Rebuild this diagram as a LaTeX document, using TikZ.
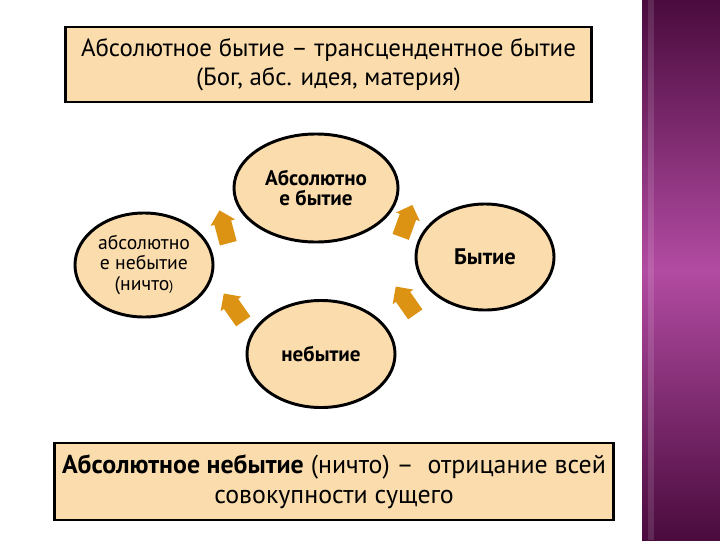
\documentclass[tikz,border=0pt]{standalone}
\usepackage{fontspec}
\setmainfont{PT Sans}
\usetikzlibrary{shapes.geometric,shapes.arrows}
\definecolor{peach}{HTML}{FBDCAC}
\definecolor{arroworange}{HTML}{DC9212}
\definecolor{plumdark}{HTML}{4A0B3D}
\definecolor{plummid}{HTML}{B24BA2}

\begin{document}
\begin{tikzpicture}[x=0.025cm,y=-0.025cm,
  textbox/.style={draw=black,line width=2.1pt,fill=peach,align=center,inner sep=0pt},
  oval/.style={ellipse,draw=black,line width=2.1pt,fill=peach,align=center,inner sep=0pt,
    font=\fontsize{15}{14.5}\selectfont\bfseries},
  flow/.style={single arrow,fill=arroworange,draw=none,minimum height=0.85cm,
    inner sep=0.21cm,single arrow head extend=0.1cm}]
\useasboundingbox (0,0) rectangle (720,540);
% side band:
\shade[top color=plumdark,bottom color=plumdark,middle color=plummid] (642,0) rectangle (720,540);
\fill[white,opacity=0.12] (648,0) rectangle (654,540);
% boxes:
\node[textbox,minimum width=13.125cm,minimum height=1.875cm,font=\fontsize{17.7}{20.5}\selectfont] (abs) at (328.5,64.5)
  {Абсолютное бытие – трансцендентное бытие\\(Бог, абс. идея, материя)};
\node[textbox,minimum width=13.95cm,minimum height=1.925cm,font=\fontsize{18.4}{21}\selectfont] (nothing) at (334,481.5)
  {\textbf{Абсолютное небытие} (ничто) –\ \ отрицание всей\\совокупности сущего};
% ellipses:
\node[oval,minimum width=4.1cm,minimum height=2.7cm] (absbeing) at (316,188) {Абсолютно\\е бытие};
\node[oval,minimum width=3.45cm,minimum height=2.65cm,font=\fontsize{16}{15}\selectfont\bfseries] (being) at (485,257) {Бытие};
\node[oval,minimum width=3.7cm,minimum height=2.675cm] (nonbeing) at (321,354) {небытие};
\node[oval,minimum width=3.45cm,minimum height=2.6cm,font=\fontsize{14}{14.5}\selectfont] (absnon) at (144,265)
  {абсолютно\\е небытие\\(ничто{\fontsize{10}{10}\selectfont)}};
% arrows:
\node[flow,rotate=105] (fl1) at (225,231) {};
\node[flow,rotate=70] (fl2) at (405,225) {};
\node[flow,rotate=125] (fl3) at (408,304) {};
\node[flow,rotate=125] (fl4) at (236,311) {};
\end{tikzpicture}
\end{document}
